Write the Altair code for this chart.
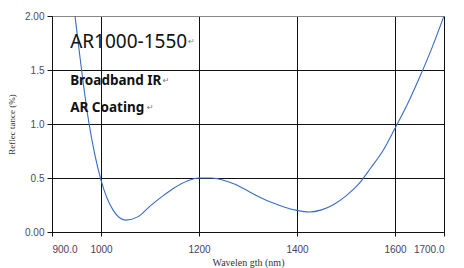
import altair as alt
import pandas as pd

wavelength = [947, 975, 1000, 1025, 1050, 1075, 1100, 1125, 1150, 1175, 1200, 1225, 1250, 1275,
              1300, 1325, 1350, 1375, 1400, 1425, 1450, 1475, 1500, 1525, 1550, 1575, 1600, 1625,
              1650, 1675, 1700]
reflectance = [2.0, 1.02, 0.48, 0.20, 0.11, 0.14, 0.24, 0.33, 0.41, 0.47, 0.50, 0.50, 0.48, 0.44,
               0.38, 0.32, 0.27, 0.23, 0.20, 0.185, 0.205, 0.255, 0.335, 0.44, 0.59, 0.75, 0.96, 1.18,
               1.43, 1.70, 2.0]

x_ticks = [900, 1000, 1200, 1400, 1600, 1700]
y_ticks = [0, 0.5, 1.0, 1.5, 2.0]

notes = ["AR1000-1550", "Broadband IR", "AR Coating"]
note_x = [937, 937, 937]
note_y = [1.76, 1.40, 1.15]
note_size = [19, 13.5, 13.5]
note_weight = ["normal", "bold", "bold"]
mark_x = [1178, 1126, 1094]

df = pd.DataFrame({"wl": wavelength, "r": reflectance})
nd = pd.DataFrame({"t": notes, "x": note_x, "y": note_y})
md = pd.DataFrame({"t": ["\u21b5"] * 3, "x": mark_x, "y": note_y})

xscale = alt.Scale(domain=[900, 1700], nice=False, zero=False)
yscale = alt.Scale(domain=[0, 2], nice=False)

line = alt.Chart(df).mark_line(color="#3a6cc4", strokeWidth=1.1, interpolate="monotone", clip=True).encode(
    x=alt.X("wl:Q", scale=xscale,
            axis=alt.Axis(values=x_ticks, title="Wavelen gth (nm)",
                          labelExpr="datum.value == 900 ? '900.0' : datum.value == 1700 ? '1700.0' : datum.value",
                          grid=True, gridColor="#111", gridOpacity=1, gridWidth=1,
                          domainColor="#111", tickColor="#111", tickSize=4,
                          labelColor="#4a4060", labelFont="Liberation Sans", labelFontSize=10,
                          labelPadding=8,
                          titleFont="Liberation Serif", titleFontSize=10, titleColor="#333",
                          titleFontWeight="normal", titlePadding=3)),
    y=alt.Y("r:Q", scale=yscale,
            axis=alt.Axis(values=y_ticks, title="Reflec tance (%)",
                          labelExpr="datum.value == 0 ? '0.00' : datum.value == 2 ? '2.00' : format(datum.value, '.1f')",
                          grid=True,
                          gridColor={"condition": {"test": "datum.value == 2", "value": "#888"}, "value": "#111"},
                          gridOpacity=1, gridWidth=1,
                          domainColor="#111", tickColor="#111", tickSize=5,
                          labelColor="#4a4a60", labelFont="Liberation Sans", labelFontSize=10,
                          labelPadding=3,
                          titleFont="Liberation Serif", titleFontSize=9, titleColor="#333",
                          titleFontWeight="normal", titlePadding=8)),
)

texts = []
for i in range(3):
    sub = nd.iloc[[i]]
    texts.append(alt.Chart(sub).mark_text(align="left", baseline="middle", font="Noto Sans",
                                          fontSize=note_size[i], fontWeight=note_weight[i],
                                          color="#111").encode(
        x=alt.X("x:Q", scale=xscale), y=alt.Y("y:Q", scale=yscale), text="t:N"))

marks = alt.Chart(md).mark_text(align="left", baseline="middle", font="DejaVu Sans",
                                fontSize=8, color="#777").encode(
    x=alt.X("x:Q", scale=xscale), y=alt.Y("y:Q", scale=yscale), text="t:N")

chart = alt.layer(line, *texts, marks).properties(
    width=392, height=216,
    autosize=alt.AutoSizeParams(type="none"),
    padding={"left": 44, "top": 8, "right": 12, "bottom": 36},
).configure_view(stroke=None).configure(background="white")

chart.save("out.html", embed_options={"renderer": "svg", "actions": False})
